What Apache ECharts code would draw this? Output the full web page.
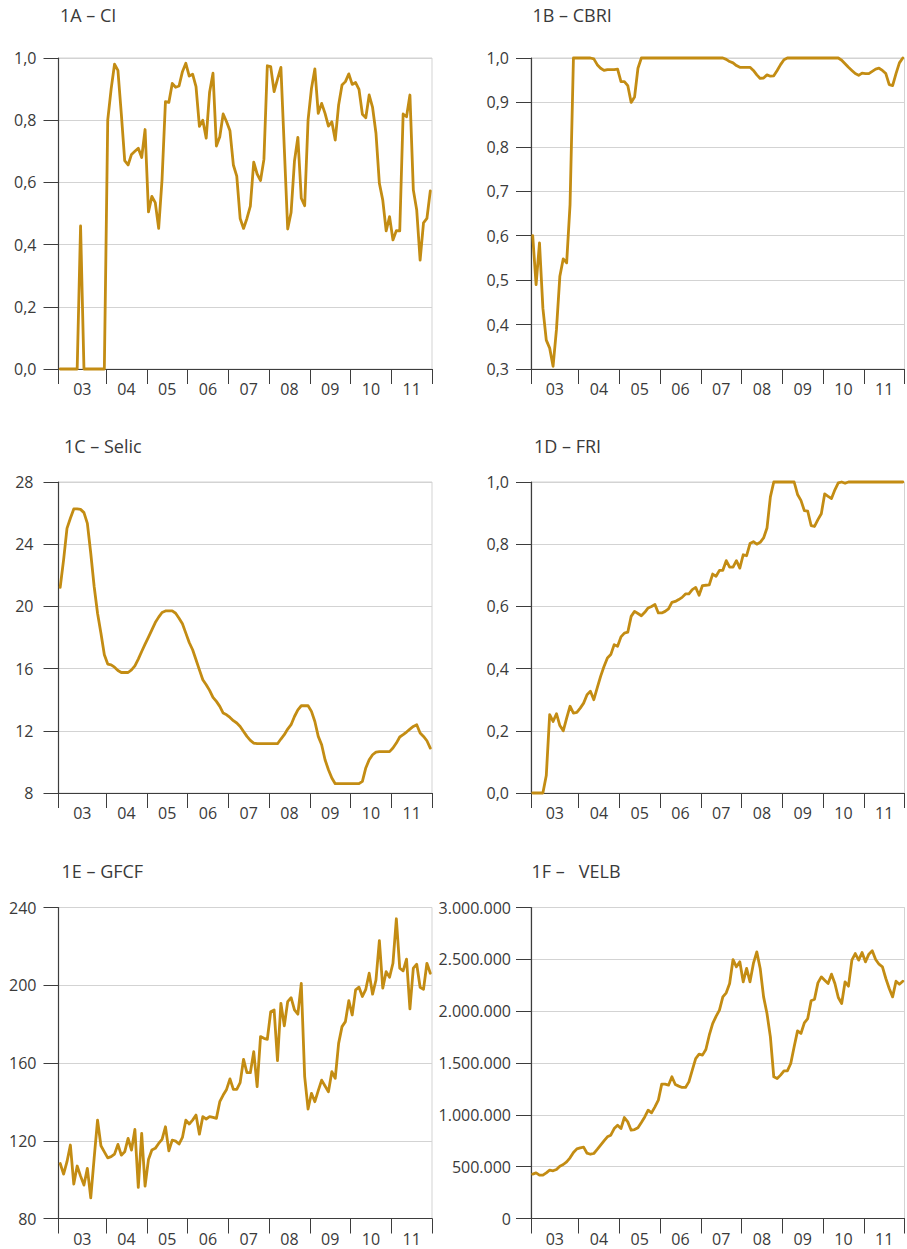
<!DOCTYPE html>
<html>
<head>
<meta charset="utf-8">
<script src="https://cdn.jsdelivr.net/npm/echarts@6/dist/echarts.min.js"></script>
<style>
  html, body { margin: 0; padding: 0; background: #ffffff; }
  #chart { width: 907px; height: 1249px; }
</style>
</head>
<body>
<div id="chart"></div>
<script>
// Year bands on the time axis; the first band runs from Nov 2002 to Dec 2003.
const YEARS = ['03', '04', '05', '06', '07', '08', '09', '10', '11'];
const YEAR_MONTHS = [14, 12, 12, 12, 12, 12, 12, 12, 12];

// Monthly series, Nov 2002 – Dec 2011
const CI = [
  0, 0, 0, 0, 0, 0, 0.46, 0, 0, 0,
  0, 0, 0, 0, 0.80, 0.90, 0.98, 0.96, 0.82, 0.67,
  0.656, 0.69, 0.70, 0.71, 0.68, 0.77, 0.505, 0.555, 0.535, 0.452,
  0.61, 0.86, 0.857, 0.918, 0.906, 0.91, 0.956, 0.983, 0.942, 0.948,
  0.908, 0.78, 0.80, 0.742, 0.89, 0.951, 0.717, 0.747, 0.82, 0.795,
  0.766, 0.656, 0.62, 0.484, 0.452, 0.484, 0.524, 0.665, 0.627, 0.606,
  0.674, 0.975, 0.972, 0.892, 0.932, 0.97, 0.71, 0.45, 0.503, 0.669,
  0.745, 0.549, 0.525, 0.80, 0.902, 0.965, 0.822, 0.854, 0.822, 0.781,
  0.795, 0.736, 0.849, 0.913, 0.924, 0.949, 0.915, 0.921, 0.899, 0.819,
  0.808, 0.881, 0.841, 0.758, 0.597, 0.543, 0.444, 0.49, 0.415, 0.445,
  0.444, 0.82, 0.811, 0.881, 0.576, 0.511, 0.35, 0.47, 0.484, 0.573
];

const CBRI = [
  0.60, 0.49, 0.584, 0.437, 0.365, 0.347, 0.306, 0.389, 0.509, 0.548,
  0.539, 0.67, 1, 1, 1, 1, 1, 1, 0.998, 0.985,
  0.977, 0.972, 0.974, 0.974, 0.974, 0.975, 0.947, 0.947, 0.938, 0.90,
  0.912, 0.977, 1, 1, 1, 1, 1, 1, 1, 1,
  1, 1, 1, 1, 1, 1, 1, 1, 1, 1,
  1, 1, 1, 1, 1, 1, 1, 0.997, 0.992, 0.989,
  0.983, 0.979, 0.979, 0.979, 0.979, 0.972, 0.962, 0.954, 0.955, 0.962,
  0.959, 0.96, 0.972, 0.985, 0.996, 1, 1, 1, 1, 1,
  1, 1, 1, 1, 1, 1, 1, 1, 1, 1,
  1, 0.995, 0.987, 0.979, 0.972, 0.965, 0.961, 0.966, 0.965, 0.965,
  0.97, 0.975, 0.977, 0.972, 0.965, 0.94, 0.938, 0.965, 0.989, 1
];

const SELIC = [
  21.23, 22.99, 25.02, 25.67, 26.27, 26.27, 26.24, 26.03, 25.34, 23.42,
  21.28, 19.56, 18.28, 16.89, 16.29, 16.24, 16.09, 15.88, 15.75, 15.75,
  15.75, 15.92, 16.18, 16.61, 17.10, 17.57, 18.02, 18.49, 18.96, 19.31,
  19.61, 19.71, 19.71, 19.71, 19.56, 19.24, 18.88, 18.28, 17.68, 17.21,
  16.57, 15.92, 15.28, 14.96, 14.60, 14.15, 13.89, 13.57, 13.14, 13.03,
  12.86, 12.65, 12.50, 12.28, 11.96, 11.64, 11.38, 11.21, 11.17, 11.17,
  11.17, 11.17, 11.17, 11.17, 11.17, 11.47, 11.75, 12.11, 12.39, 12.92,
  13.35, 13.61, 13.61, 13.61, 13.25, 12.60, 11.64, 11.10, 10.14, 9.50,
  8.96, 8.60, 8.60, 8.60, 8.60, 8.60, 8.60, 8.60, 8.60, 8.75,
  9.61, 10.14, 10.46, 10.63, 10.66, 10.66, 10.66, 10.66, 10.89, 11.21,
  11.60, 11.75, 11.92, 12.11, 12.28, 12.39, 11.86, 11.64, 11.36, 10.89
];

const FRI = [
  0, 0, 0, 0, 0.056, 0.252, 0.23, 0.255, 0.217, 0.20,
  0.241, 0.279, 0.257, 0.259, 0.273, 0.289, 0.316, 0.327, 0.30, 0.338,
  0.375, 0.407, 0.434, 0.445, 0.477, 0.472, 0.502, 0.514, 0.517, 0.568,
  0.584, 0.577, 0.57, 0.581, 0.595, 0.60, 0.606, 0.579, 0.579, 0.584,
  0.592, 0.613, 0.616, 0.622, 0.629, 0.64, 0.64, 0.654, 0.661, 0.636,
  0.667, 0.668, 0.669, 0.704, 0.697, 0.716, 0.716, 0.747, 0.726, 0.726,
  0.747, 0.723, 0.766, 0.763, 0.802, 0.808, 0.80, 0.806, 0.82, 0.852,
  0.952, 1, 1, 1, 1, 1, 1, 1, 0.96, 0.941,
  0.908, 0.906, 0.86, 0.857, 0.879, 0.898, 0.962, 0.954, 0.947, 0.975,
  0.997, 1, 0.996, 1, 1, 1, 1, 1, 1, 1,
  1, 1, 1, 1, 1, 1, 1, 1, 1, 1
];

const GFCF = [
  108.3, 102.8, 109.2, 117.8, 97.7, 107.0, 101.8, 97.2, 105.8, 90.6,
  111.0, 130.6, 117.4, 114.3, 111.2, 111.8, 113.1, 118.1, 112.6, 114.3,
  121.2, 115.2, 125.8, 96.0, 123.8, 96.7, 110.4, 115.2, 116.1, 118.6,
  120.7, 127.2, 114.8, 120.3, 119.8, 118.3, 121.7, 130.6, 128.6, 130.6,
  133.2, 123.4, 132.4, 131.2, 132.4, 132.0, 131.5, 140.1, 143.5, 146.4,
  151.8, 146.4, 146.4, 149.9, 161.9, 155.0, 155.0, 165.8, 147.8, 173.6,
  172.7, 172.2, 186.4, 187.3, 161.2, 190.7, 179.1, 191.6, 193.6, 187.3,
  185.1, 201.0, 153.0, 136.3, 144.4, 140.1, 145.8, 151.2, 148.2, 145.2,
  155.5, 152.1, 170.1, 178.7, 181.3, 192.1, 184.7, 197.6, 199.0, 194.2,
  197.9, 206.2, 195.4, 202.7, 223.0, 198.5, 207.0, 204.1, 211.3, 234.2,
  208.8, 207.4, 213.4, 187.8, 208.8, 210.8, 199.0, 197.9, 211.3, 206.2
];

const VELB = [
  428000, 440000, 418000, 418000, 440000, 466000, 460000, 473000, 505000, 521000,
  547000, 585000, 637000, 672000, 682000, 688000, 630000, 620000, 627000, 666000,
  707000, 749000, 788000, 804000, 868000, 900000, 868000, 974000, 932000, 852000,
  858000, 875000, 926000, 980000, 1045000, 1019000, 1077000, 1141000, 1296000, 1296000,
  1286000, 1367000, 1293000, 1277000, 1264000, 1264000, 1318000, 1431000, 1543000, 1585000,
  1576000, 1630000, 1768000, 1880000, 1950000, 2010000, 2138000, 2177000, 2267000, 2498000,
  2428000, 2476000, 2283000, 2412000, 2283000, 2460000, 2572000, 2412000, 2138000, 1977000,
  1752000, 1367000, 1350000, 1383000, 1424000, 1424000, 1495000, 1656000, 1810000, 1785000,
  1887000, 1929000, 2100000, 2116000, 2273000, 2331000, 2299000, 2267000, 2357000, 2267000,
  2132000, 2074000, 2283000, 2241000, 2492000, 2556000, 2492000, 2566000, 2476000, 2550000,
  2582000, 2498000, 2453000, 2428000, 2315000, 2219000, 2138000, 2289000, 2260000, 2289000
];

const FONT = '"Open Sans", "Noto Sans", "DejaVu Sans", sans-serif';
const TEXT_COLOR = '#3a3a3a';
const LINE_COLOR = '#c38c13';
const AXIS_COLOR = '#3d3d3d';
const GRID_COLOR = '#d3d3d3';

// year boundaries (tick positions) and band centres (label positions), in months
const bounds = [0];
YEAR_MONTHS.forEach(n => bounds.push(bounds[bounds.length - 1] + n));
const labelPos = YEAR_MONTHS.map((n, i) => bounds[i] + n / 2);
const totalMonths = bounds[bounds.length - 1];

const dec1 = v => v.toFixed(1).replace('.', ',');
const intFmt = v => String(Math.round(v));
const thousands = v => String(Math.round(v)).replace(/\B(?=(\d{3})+(?!\d))/g, '.');

const COL_LEFT = [58.5, 531];
const ROW_TOP = [58, 482, 907.5];
const PLOT_W = 373.5;
const PLOT_H = 311;

const panels = [
  { title: '1A – CI',    data: CI,    min: 0,   max: 1,       interval: 0.2,    fmt: dec1,      col: 0, row: 0, tx: 60,    ty: 14.5, lm: 22 },
  { title: '1B – CBRI',  data: CBRI,  min: 0.3, max: 1,       interval: 0.1,    fmt: dec1,      col: 1, row: 0, tx: 532.5, ty: 15,   lm: 22 },
  { title: '1C – Selic', data: SELIC, min: 8,   max: 28,      interval: 4,      fmt: intFmt,    col: 0, row: 1, tx: 64,    ty: 446,  lm: 25 },
  { title: '1D – FRI',   data: FRI,   min: 0,   max: 1,       interval: 0.2,    fmt: dec1,      col: 1, row: 1, tx: 534,   ty: 446,  lm: 22 },
  { title: '1E – GFCF',  data: GFCF,  min: 80,  max: 240,     interval: 40,     fmt: intFmt,    col: 0, row: 2, tx: 61.5,  ty: 871,  lm: 22 },
  { title: '1F –   VELB', data: VELB, min: 0,   max: 3000000, interval: 500000, fmt: thousands, col: 1, row: 2, tx: 531.5, ty: 871,  lm: 20 }
];

const grid = [], xAxis = [], yAxis = [], series = [], graphic = [];

panels.forEach((p, k) => {
  grid.push({
    left: COL_LEFT[p.col], top: ROW_TOP[p.row], width: PLOT_W, height: PLOT_H,
    show: true, borderColor: GRID_COLOR, borderWidth: 1, backgroundColor: 'transparent',
    containLabel: false
  });
  xAxis.push({
    type: 'value', gridIndex: k, min: 0, max: totalMonths,
    axisLine: { show: true, onZero: false, lineStyle: { color: AXIS_COLOR, width: 1.2 } },
    axisTick: { show: true, customValues: bounds, length: 15, lineStyle: { color: AXIS_COLOR, width: 1 } },
    axisLabel: {
      customValues: labelPos, margin: 12, fontSize: 16, fontFamily: FONT, color: TEXT_COLOR,
      formatter: v => {
        const i = labelPos.findIndex(c => Math.abs(c - v) < 0.01);
        return i >= 0 ? YEARS[i] : '';
      }
    },
    splitLine: { show: false }
  });
  yAxis.push({
    type: 'value', gridIndex: k, min: p.min, max: p.max, interval: p.interval,
    axisLine: { show: true, lineStyle: { color: AXIS_COLOR, width: 1.2 } },
    axisTick: { show: true, length: 15, lineStyle: { color: AXIS_COLOR, width: 1 } },
    axisLabel: { margin: p.lm, fontSize: 16, fontFamily: FONT, color: TEXT_COLOR, formatter: p.fmt },
    splitLine: { show: true, lineStyle: { color: GRID_COLOR, width: 1 } }
  });
  series.push({
    type: 'line', name: p.title, xAxisIndex: k, yAxisIndex: k,
    data: p.data.map((v, i) => [i + 0.5, v]),
    showSymbol: false, smooth: false, clip: false, silent: true,
    lineStyle: { color: LINE_COLOR, width: 2.8, join: 'round', cap: 'round' }
  });
  graphic.push({
    type: 'text', x: p.tx, y: p.ty, silent: true,
    style: { text: p.title, fontSize: 18, fontFamily: FONT, fill: TEXT_COLOR, verticalAlign: 'middle', textVerticalAlign: 'middle' }
  });
});

const chart = echarts.init(document.getElementById('chart'), null, { renderer: 'svg', width: 907, height: 1249 });
chart.setOption({
  animation: false,
  backgroundColor: '#ffffff',
  grid, xAxis, yAxis, series, graphic
});
</script>
</body>
</html>
